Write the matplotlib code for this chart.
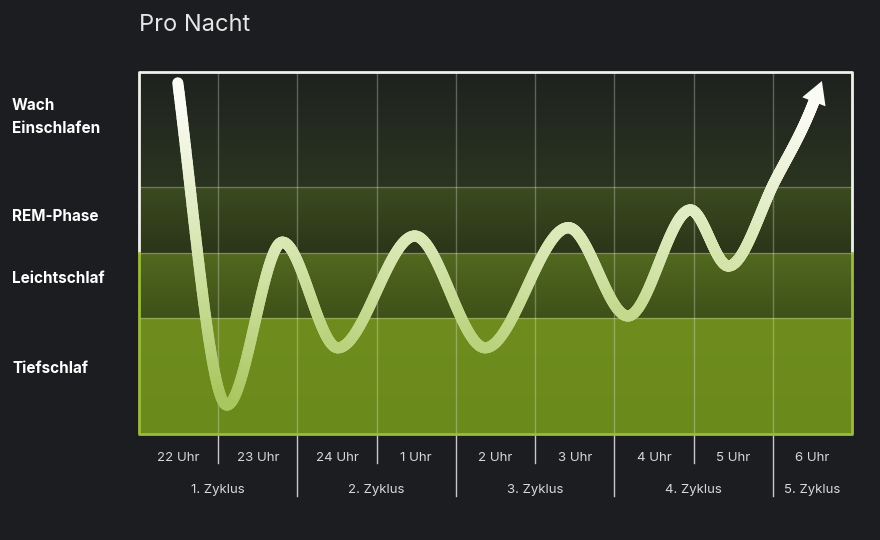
import numpy as np
import matplotlib
matplotlib.use("Agg")
import matplotlib.pyplot as plt
from matplotlib.collections import LineCollection
from matplotlib.colors import LinearSegmentedColormap

plt.rcParams['font.family'] = ['Inter', 'DejaVu Sans']

hours = ["22 Uhr", "23 Uhr", "24 Uhr", "1 Uhr", "2 Uhr", "3 Uhr", "4 Uhr", "5 Uhr", "6 Uhr"]
cycles = ["1. Zyklus", "2. Zyklus", "3. Zyklus", "4. Zyklus", "5. Zyklus"]
cycle_bounds = [0, 2, 4, 6, 8, 9]
stages = ["Tiefschlaf", "Leichtschlaf", "REM-Phase", "Wach\nEinschlafen"]
band_edges = [0, 32, 50, 68.2, 100]
# curve key points (hour index, stage level 0-100)
curve_x = [0.49, 1.11, 1.81, 2.51, 3.48, 4.37, 5.42, 6.17, 6.96, 7.44, 8.03, 8.54]
curve_y = [97, 8, 53, 23.8, 54.7, 23.8, 57, 32.6, 61.9, 46.4, 70, 93]

BG = "#1b1d20"
fig = plt.figure(figsize=(8.8, 5.4), dpi=100, facecolor=BG)
ax = fig.add_axes([139/880, 1-434/540, (852-139)/880, (434-72)/540])
ax.set_facecolor(BG)
ax.set_xlim(0, 9); ax.set_ylim(0, 100)

band_cols = [("#6b8a1c", "#6e8d1e"), ("#3e5119", "#52691f"), ("#2b3519", "#3b4b1f"), ("#2b3420", "#1e221f")]
grad = np.linspace(0, 1, 100).reshape(-1, 1)
for (lo, hi), (cb, ct) in zip(zip(band_edges[:-1], band_edges[1:]), band_cols):
    cm = LinearSegmentedColormap.from_list("b", [cb, ct])
    ax.imshow(grad, aspect="auto", cmap=cm, extent=[0, 9, lo, hi], origin="lower", zorder=0)

for i in range(1, 9):
    ax.axvline(i, color="white", alpha=0.28, lw=1, zorder=1)
for e in band_edges[1:-1]:
    ax.axhline(e, color="white", alpha=0.25, lw=1, zorder=1)

# monotone cubic Hermite (Fritsch-Carlson)
xk = np.array(curve_x); yk = np.array(curve_y)
h = np.diff(xk); d = np.diff(yk) / h
m = np.zeros_like(yk)
for i in range(1, len(xk)-1):
    if d[i-1]*d[i] > 0:
        w1 = 2*h[i] + h[i-1]; w2 = h[i] + 2*h[i-1]
        m[i] = (w1 + w2) / (w1/d[i-1] + w2/d[i])
m[0] = d[0]*1.2; m[-1] = d[-1]*1.3
xs, ys = [], []
for i in range(len(h)):
    t = np.linspace(0, 1, 80)
    h00 = 2*t**3-3*t**2+1; h10 = t**3-2*t**2+t; h01 = -2*t**3+3*t**2; h11 = t**3-t**2
    xs.append(xk[i] + t*h[i])
    ys.append(h00*yk[i] + h10*h[i]*m[i] + h01*yk[i+1] + h11*h[i]*m[i+1])
xs = np.concatenate(xs); ys = np.concatenate(ys)
pts = np.array([xs, ys]).T.reshape(-1, 1, 2)
segs = np.concatenate([pts[:-1], pts[1:]], axis=1)
lcm = LinearSegmentedColormap.from_list("l", ["#a9c760", "#d7e6b0", "#fbfbf5"])
lc = LineCollection(segs, cmap=lcm, norm=plt.Normalize(10, 90), linewidths=8,
                    capstyle="round", joinstyle="round", antialiased=True, zorder=3)
lc.set_array((ys[:-1]+ys[1:])/2)
ax.add_collection(lc)
ax.annotate("", xy=(xs[-1]+0.08, ys[-1]+4.5), xytext=(xs[-3], ys[-3]),
            arrowprops=dict(arrowstyle="-|>,head_length=1.6,head_width=0.9", color="#fbfbf5",
                            lw=0, shrinkA=0, shrinkB=0), zorder=4)

# frame
for sp in ax.spines.values():
    sp.set_visible(False)
ax.plot([0, 0, 9, 9], [50, 100, 100, 50], color="#f0f0ea", lw=2, zorder=5, clip_on=False)
ax.plot([0, 0, 9, 9], [50, 0, 0, 50], color="#9dbb3a", lw=2, zorder=5, clip_on=False)
ax.set_xticks([]); ax.set_yticks([])

# labels
for i, lab in enumerate(hours):
    ax.text(i+0.5, -6.7, lab, ha="center", va="center", color="#d8d8d8", fontsize=9.5, clip_on=False)
for b in cycle_bounds[1:-1]:
    ax.plot([b, b], [0, -17], color="#c8c8c8", lw=1, clip_on=False)
for i in range(1, 9):
    if i not in cycle_bounds:
        ax.plot([i, i], [0, -8], color="#c8c8c8", lw=1, clip_on=False)
for i, lab in enumerate(cycles):
    c = (cycle_bounds[i]+cycle_bounds[i+1])/2
    ax.text(c, -15.5, lab, ha="center", va="center", color="#d8d8d8", fontsize=9.5, clip_on=False)
ypos = [18, 43, 60, 87.6]
for lab, yy in zip(stages, ypos):
    fig.text(12/880, 1-(434-yy*3.62)/540, lab, ha="left", va="center", color="white",
             fontsize=11, fontweight="bold", linespacing=1.7)
fig.text(139/880, 1-25/540, "Pro Nacht", ha="left", va="center", color="#e6e6e6", fontsize=17)

fig.savefig("out.png", dpi=100, facecolor=BG)
